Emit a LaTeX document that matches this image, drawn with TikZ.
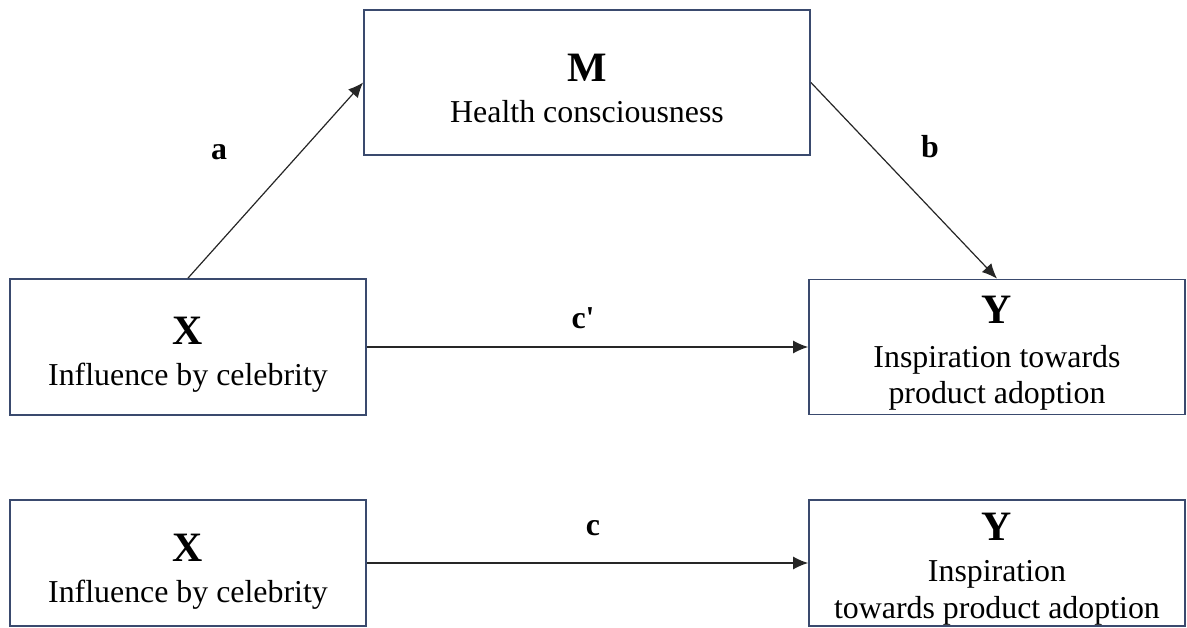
\documentclass[tikz,border=0pt]{standalone}
\usepackage{fontspec}
\setmainfont{Liberation Serif}
\usetikzlibrary{arrows.meta}

\definecolor{boxcol}{HTML}{3A4A6E}
\newcommand{\varletter}[2]{{\fontsize{42}{44}\selectfont\bfseries\rule{0pt}{#1}#2}}
\newcommand{\lastline}[2]{#2\rule[-#1]{0pt}{#1}}

\begin{document}
\begin{tikzpicture}[x=1bp,y=-1bp,
      var/.style={draw=boxcol,line width=1.8bp,align=center,inner sep=0pt,
                  font=\fontsize{32}{37}\selectfont},
      effect/.style={-{Latex[length=15bp,width=13bp]},line width=1.2bp,draw=black!85},
      coef/.style={font=\fontsize{32}{34}\selectfont\bfseries}]
   \useasboundingbox (0,0) rectangle (1187,628);

          \node[var,minimum width=446bp,minimum height=145bp] (M) at (587,82.5)
                {\varletter{50bp}{M}\\[5pt]\lastline{11bp}{Health consciousness}};
          \node[var,minimum width=356bp,minimum height=136bp] (Xa) at (188,347)
                {\varletter{46bp}{X}\\[5pt]\lastline{10bp}{Influence by celebrity}};
          \node[var,minimum width=376bp,minimum height=135bp] (Ya) at (997,347)
                {\varletter{40bp}{Y}\\[7pt]Inspiration towards\\\lastline{5bp}{product adoption}};

          \node[var,minimum width=356bp,minimum height=126bp] (Xc) at (188,563)
                {\varletter{45bp}{X}\\[4pt]\lastline{6bp}{Influence by celebrity}};
          \node[var,minimum width=376bp,minimum height=126bp] (Yc) at (997,563)
                {\varletter{40bp}{Y}\\[4pt]Inspiration\\\lastline{4bp}{towards product adoption}};

             \draw[effect] (Xa.north) -- (M.west);
             \draw[effect] (M.east) -- (Ya.north);
             \draw[effect] (Xa) -- (Ya);
             \draw[effect] (Xc) -- (Yc);

          \node[coef] (a) at (219,152) {a};
          \node[coef] (b) at (930,147) {b};
          \node[coef] (cp) at (583,318) {c\textquotesingle};
          \node[coef] (c) at (593,528) {c};

\end{tikzpicture}
\end{document}
